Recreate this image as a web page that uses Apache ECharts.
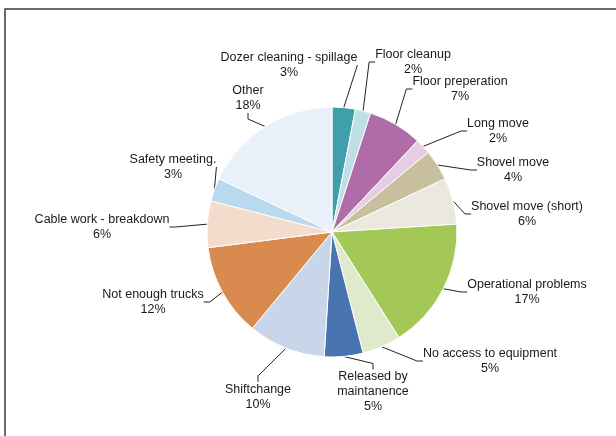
<!DOCTYPE html>
<html>
<head>
<meta charset="utf-8">
<script src="https://cdn.jsdelivr.net/npm/echarts@6/dist/echarts.min.js"></script>
<style>
  html, body { margin: 0; padding: 0; background: #fff; }
  #chart { width: 616px; height: 436px; }
</style>
</head>
<body>
<div id="chart"></div>
<script>
// Delay causes, share of lost time (%)
const categories = [
  'Dozer cleaning - spillage',
  'Floor cleanup',
  'Floor preperation',
  'Long move',
  'Shovel move',
  'Shovel move (short)',
  'Operational problems',
  'No access to equipment',
  'Released by\nmaintanence',
  'Shiftchange',
  'Not enough trucks',
  'Cable work - breakdown',
  'Safety meeting.',
  'Other'
];
const shares = [3, 2, 7, 2, 4, 6, 17, 5, 5, 10, 12, 6, 3, 18];

// Slice colours
const palette = [
  '#3f9faa', '#bfdfe6', '#b06ca8', '#e7cde3', '#c8bf9f', '#ebe8dd', '#a3c855',
  '#dfeacc', '#4a73b2', '#c9d6ea', '#d98a4e', '#f3dccb', '#bad8ee', '#e8f0f9'
];

// Label block centres (px)
const labelPos = [
  [289, 65], [413, 62], [460, 89], [498, 131], [513, 170], [527, 214], [527, 292],
  [490, 361], [373, 392], [258, 397], [153, 302], [102, 227], [173, 167], [248, 98]
];

const chart = echarts.init(document.getElementById('chart'), null, { renderer: 'canvas' });

chart.setOption({
  animation: false,
  backgroundColor: '#ffffff',
  graphic: [{
    type: 'polyline',
    shape: { points: [[5, 440], [5, 9], [620, 9]] },
    style: { stroke: '#3a3a3a', lineWidth: 1.5, fill: null }
  }],
  series: [{
    type: 'pie',
    center: [332, 232],
    radius: 125,
    startAngle: 90,
    clockwise: true,
    avoidLabelOverlap: false,
    itemStyle: { borderColor: '#ffffff', borderWidth: 1 },
    label: {
      show: true,
      formatter: '{b}\n{c}%',
      fontFamily: 'Liberation Sans, Arial, sans-serif',
      fontSize: 12.5,
      lineHeight: 15,
      color: '#1a1a1a',
      align: 'center'
    },
    labelLine: {
      show: true,
      length: 10,
      length2: 6,
      lineStyle: { color: '#222', width: 1 }
    },
    labelLayout: function (p) {
      const pos = labelPos[p.dataIndex];
      return { x: pos[0], y: pos[1], align: 'center', verticalAlign: 'middle' };
    },
    data: categories.map((name, i) => ({
      name: name,
      value: shares[i],
      itemStyle: { color: palette[i] }
    }))
  }]
});
</script>
</body>
</html>
